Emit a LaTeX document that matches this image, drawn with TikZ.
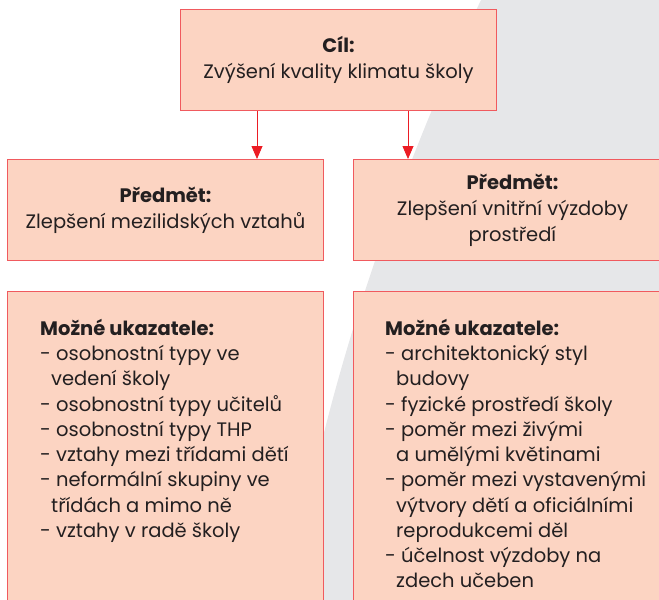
\documentclass[tikz,border=0pt]{standalone}
\usepackage{fontspec}
\setmainfont{Poppins}
\usepackage{xcolor}
\definecolor{peach}{HTML}{FCD4C2}
\definecolor{rim}{HTML}{F05A5E}
\definecolor{arrowred}{HTML}{EC1C24}
\definecolor{backdrop}{HTML}{E6E7E9}
\definecolor{ink}{HTML}{231F20}
\usepackage{tikz}
\usetikzlibrary{arrows.meta}
\newcommand{\ind}{\hspace*{11pt}}
\tikzset{
    box/.style = {
      draw=rim,
      fill=peach,
      line width=1pt,
      inner sep=0pt,
      anchor=north west,
      text=ink,
      align=center,
      font=\fontsize{19.5}{26}\selectfont
    },
    list/.style = {
      text=ink,
      align=left,
      inner sep=0pt,
      anchor=north west,
      font=\fontsize{19.5}{25.25}\selectfont
    },
    link/.style = {
      draw=arrowred,
      line width=0.8pt,
      -{Triangle[width=11pt,length=13pt]}
    }
}

\begin{document}
\begin{tikzpicture}[x=1pt, y=-1pt]
      \useasboundingbox (0,0) rectangle (659,600);
      \clip (0,0) rectangle (659,600);
      \fill[backdrop] (481,0) .. controls (395,180) and (320,400) .. (290,600)
        -- (659,600) -- (659,0) -- cycle;

      \node[box, minimum width=316, minimum height=101] (goal) at (180,9)
        {\textbf{Cíl:}\\Zvýšení kvality klimatu školy};
      \node[box, minimum width=316, minimum height=101] (subjA) at (7,159)
        {\textbf{Předmět:}\\Zlepšení mezilidských vztahů};
      \node[box, minimum width=318, minimum height=101] (subjB) at (353,159)
        {\textbf{Předmět:}\\Zlepšení vnitřní výzdoby\\prostředí};
      \node[box, minimum width=316, minimum height=330] (listA) at (7,291) {};
      \node[box, minimum width=318, minimum height=330] (listB) at (353,291) {};

      \node[list] (itemsA) at (40,319) {\textbf{Možné ukazatele:}\\
        - osobnostní typy ve\\
        \ind vedení školy\\
        - osobnostní typy učitelů\\
        - osobnostní typy THP\\
        - vztahy mezi třídami dětí\\
        - neformální skupiny ve\\
        \ind třídách a mimo ně\\
        - vztahy v radě školy};
      \node[list] (itemsB) at (385,319) {\textbf{Možné ukazatele:}\\
        - architektonický styl\\
        \ind budovy\\
        - fyzické prostředí školy\\
        - poměr mezi živými\\
        \ind a umělými květinami\\
        - poměr mezi vystavenými\\
        \ind výtvory dětí a oficiálními\\
        \ind reprodukcemi děl\\
        - účelnost výzdoby na\\
        \ind zdech učeben};

      \coordinate (startA) at ([xshift=77pt]goal.south west);
      \coordinate (startB) at ([xshift=55pt]subjB.north west |- goal.south);
      \draw[link] (startA) -- (startA |- subjA.north);
      \draw[link] (startB) -- (startB |- subjB.north);
\end{tikzpicture}
\end{document}
